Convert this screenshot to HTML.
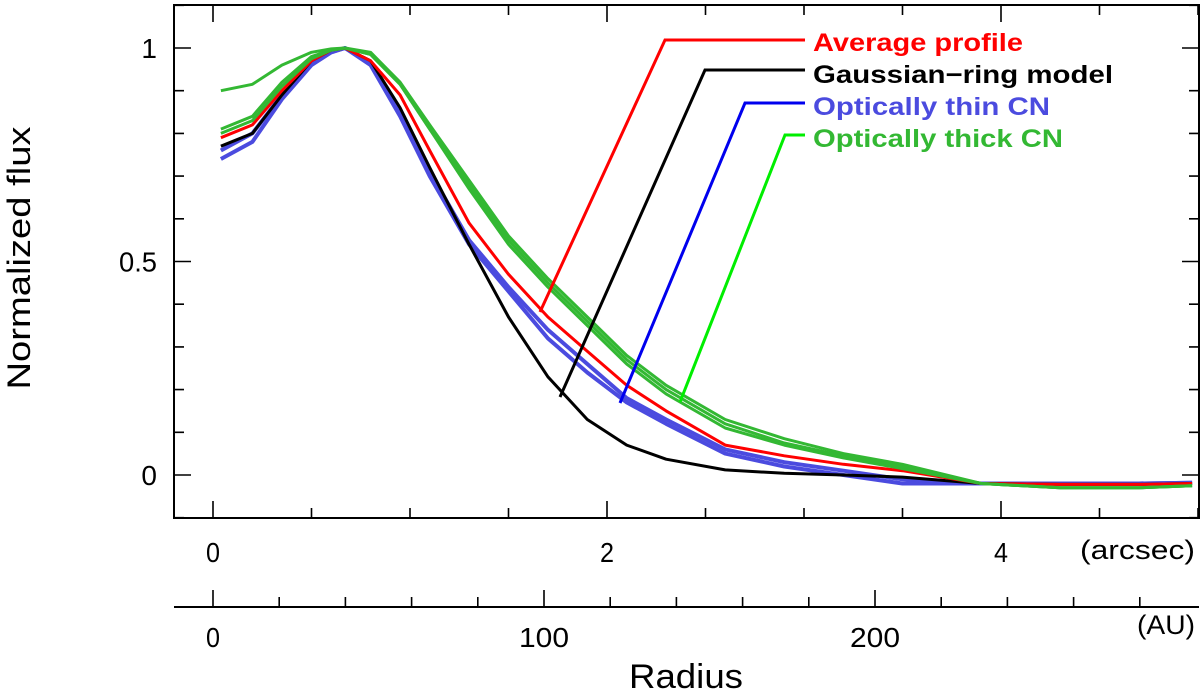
<!DOCTYPE html>
<html><head><meta charset="utf-8"><style>
html,body{margin:0;padding:0;background:#fff;}
svg{display:block;font-family:"Liberation Sans",sans-serif;}
</style></head><body>
<svg id="chart" width="1200" height="689" viewBox="0 0 1200 689" xmlns="http://www.w3.org/2000/svg">
<g id="axes"></g>
<g id="series"></g>
<g id="legend"></g>
</svg>
<script>
const radii = [0.04,0.2,0.35,0.5,0.6,0.67,0.8,0.95,1.1,1.3,1.5,1.7,1.9,2.1,2.3,2.6,2.9,3.2,3.5,3.9,4.3,4.7,4.97];
const avgProfile = [.79,.82,.90,.97,.995,1,.97,.89,.76,.59,.47,.37,.29,.21,.15,.07,.045,.025,.01,-.02,-.022,-.022,-.02];
const gaussModel = [.77,.80,.89,.97,.995,1,.97,.86,.72,.54,.37,.23,.13,.07,.037,.012,.004,0,-.005,-.02,-.022,-.022,-.02];
const thin1 = [.74,.78,.88,.96,.99,1,.96,.84,.70,.54,.43,.32,.24,.17,.12,.05,.02,0,-.02,-.02,-.02,-.02,-.018];
const thin2 = [.76,.80,.89,.965,.99,1,.965,.85,.71,.55,.44,.34,.26,.18,.13,.06,.03,.01,-.01,-.02,-.02,-.02,-.018];
const thick1 = [.81,.84,.92,.98,.995,1,.99,.92,.82,.69,.56,.46,.37,.28,.21,.13,.085,.05,.025,-.02,-.03,-.03,-.025];
const thick2 = [.80,.83,.91,.975,.995,1,.985,.915,.81,.67,.54,.44,.35,.26,.19,.11,.07,.04,.015,-.02,-.03,-.03,-.025];
const thick3 = [.90,.915,.96,.99,.998,1,.985,.915,.81,.68,.55,.45,.36,.27,.20,.12,.075,.045,.02,-.02,-.03,-.03,-.025];
const yTickLabels = ["0","0.5","1"];
const arcTickLabels = ["0","2","4"];
const auTickLabels = ["0","100","200"];

const NS="http://www.w3.org/2000/svg";
const L=174,R=1199,T=5,B=518;
const xs=r=>213+r*197;
const ys=v=>475-v*427;
const xau=a=>213+a*3.31;
function mk(tag,attrs,parent){const e=document.createElementNS(NS,tag);for(const k in attrs)e.setAttribute(k,attrs[k]);parent.appendChild(e);return e;}
const axes=document.getElementById('axes'),series=document.getElementById('series'),legend=document.getElementById('legend');

let box=mk('rect',{x:L,y:T,width:R-L,height:B-T,fill:'none',stroke:'#000','stroke-width':2},axes);


let d='';
for(let i=0;i<=10;i++){const r=i*0.5;const len=(i%4===0)?17:10;const x=xs(r);if(x>R)break;d+=`M${x},${B}v${-len}M${x},${T}v${len}`;}
for(let i=-1;i<=11;i++){const v=i*0.1;const y=ys(v);if(y<T||y>B)continue;const len=(i%5===0)?17:10;d+=`M${L},${y}h${len}M${R},${y}h${-len}`;}
let ticks=mk('path',{d:d,stroke:'#000','stroke-width':1.6,fill:'none'},axes);


let au=mk('line',{x1:L,x2:R,y1:607,y2:607,stroke:'#000','stroke-width':2},axes);


let d2='';
for(let i=0;i<=14;i++){const a=i*20;const x=xau(a);if(x>R)break;d2+=`M${x},607v${i%5===0?-17:-10}`;}
let auT=mk('path',{d:d2,stroke:'#000','stroke-width':1.6,fill:'none'},axes);


function txt(s,x,y,size,anchor,parent,name,w){const a={x:x,y:y,'font-size':size,'text-anchor':anchor};if(w){a.textLength=w;a.lengthAdjust='spacingAndGlyphs';}const e=mk('text',a,parent);e.textContent=s;return e;}
yTickLabels.forEach((s,i)=>txt(s,157,ys(i*0.5)+10,28,'end',axes,'y-tick-label',s.length>1?38:0));
arcTickLabels.forEach((s,i)=>txt(s,xs(i*2),562,28,'middle',axes,'x-tick-label-arcsec',14));
auTickLabels.forEach((s,i)=>txt(s,xau(i*100),647,28,'middle',axes,'x-tick-label-au',s.length>1?50:14));
txt('(arcsec)',1195,559,27,'end',axes,'arcsec-unit',115);
txt('(AU)',1195,634,27,'end',axes,'au-unit',58);
txt('Radius',686,688,34,'middle',axes,'x-axis-title',114);
let yt=mk('text',{x:0,y:0,'font-size':32,'text-anchor':'middle',textLength:263,lengthAdjust:'spacingAndGlyphs',transform:'translate(30,258) rotate(-90)'},axes);
yt.textContent='Normalized flux';



const defs=[[thin1,'#4b4bdf','thin-cn-1'],[thin2,'#4b4bdf','thin-cn-2'],[gaussModel,'#000','gaussian-ring-line'],[avgProfile,'#f00','average-profile-line'],[thick1,'#33b833','thick-cn-1'],[thick2,'#33b833','thick-cn-2'],[thick3,'#33b833','thick-cn-3']];
defs.forEach(([vals,col,name])=>{const pts=radii.map((r,i)=>xs(r).toFixed(1)+','+ys(vals[i]).toFixed(1)).join(' ');
const p=mk('polyline',{points:pts,fill:'none',stroke:col,'stroke-width':name.startsWith('thin')?4:3,'stroke-linejoin':'round'},series);

});

const leg=[['Average profile','#f00','#f00',[540,312],[665,40],46,210],['Gaussian\u2212ring model','#000','#000',[560,397],[705,70],78,300],['Optically thin CN','#0000ee','#4b4bdf',[620,403],[745,103],110,237],['Optically thick CN','#00ee00','#33b833',[680,402],[785,135],142,250]];
leg.forEach(([label,lc,tc,a,b,by,w])=>{
const l=mk('polyline',{points:`${a[0]},${a[1]} ${b[0]},${b[1]} 805,${b[1]}`,fill:'none',stroke:lc,'stroke-width':3},legend);


const t=mk('text',{x:813,y:by+5,'font-size':25,'font-weight':'bold',fill:tc,textLength:w,lengthAdjust:'spacingAndGlyphs'},legend);
t.textContent=label;


});
</script>
</body></html>
